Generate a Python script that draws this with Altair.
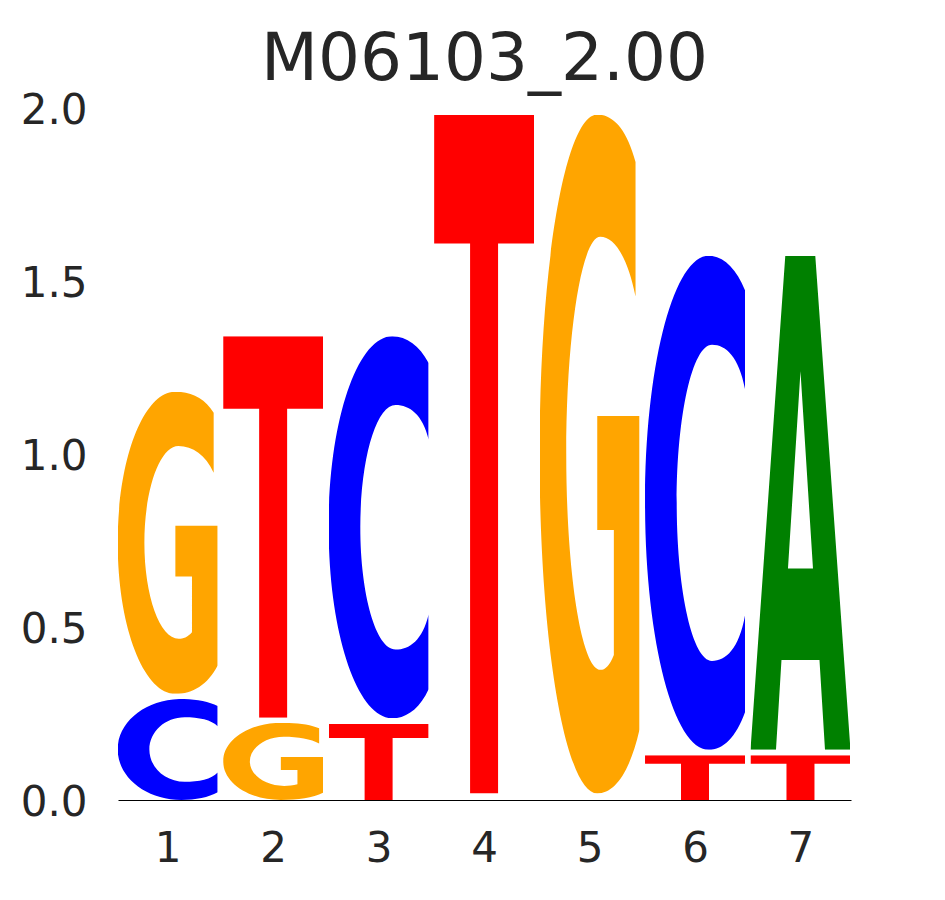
import base64
import altair as alt
import pandas as pd

positions = [1, 1, 2, 2, 3, 3, 4, 5, 6, 6, 7, 7]
letters = ["C", "G", "G", "T", "T", "C", "T", "G", "T", "C", "T", "A"]
bottoms = [0.0, 0.307, 0.0, 0.238, 0.0, 0.236, 0.019, 0.019, 0.0, 0.145, 0.0, 0.145]
tops = [0.292, 1.180, 0.223, 1.340, 0.221, 1.340, 1.981, 1.981, 0.129, 1.573, 0.129, 1.573]
x_ticks = [1, 2, 3, 4, 5, 6, 7]
y_ticks = [0.0, 0.5, 1.0, 1.5, 2.0]
title_text = "M06103_2.00"

# ---- glyph outlines (unit box 100x100, stretched to each letter's box) ----
GLYPHS = {
    "A": ("M0,100 L34.8,0 L64.8,0 L100,100 L74.5,100 L69,81.8 L31,81.8 L25.5,100 Z "
          "M50,23.4 L37.5,63.3 L62.5,63.3 Z"),
    "T": "M0,0 H100 V19 H64 V100 H36 V19 H0 Z",
    "C": ("M100,7 C91,2.5 78,0 63.7,0 C28.5,0 0,22.4 0,50 C0,77.6 28.5,100 63.7,100 "
          "C78,100 91,97.5 100,92.4 L100,72.8 C94,79.5 81,82 67,82 "
          "C47.5,82 31.7,67.7 31.7,50 C31.7,32.3 47.5,18 67,18 "
          "C81,18 94,20.5 100,27 Z"),
    "G": ("M96,7 C87,2 73,0 57.7,0 C25.8,0 0,22.4 0,50 C0,77.6 25.8,100 57.7,100 "
          "C75,100 90,97 100,90.6 L100,44.4 L57.7,44.4 L57.7,61.2 L74.3,61.2 L74.3,79.6 "
          "C70,81.2 65.5,81.8 61,81.8 C42.2,81.8 26.7,67.6 26.7,50 "
          "C26.7,32.4 42.2,18 60.7,18 C75,18 88,21 96,26.8 Z"),
}
COLORS = {"A": "#008000", "C": "#0000FF", "G": "#FFA500", "T": "#FF0000"}


def glyph_url(letter):
    svg = ('<svg xmlns="http://www.w3.org/2000/svg" width="100" height="100" '
           'viewBox="0 0 100 100" preserveAspectRatio="none">'
           f'<path d="{GLYPHS[letter]}" fill="{COLORS[letter]}" fill-rule="evenodd"/></svg>')
    return "data:image/svg+xml;base64," + base64.b64encode(svg.encode()).decode()


half = 0.474
df = pd.DataFrame({
    "pos": positions,
    "letter": letters,
    "y0": bottoms,
    "y1": tops,
})
df["x0"] = df["pos"] - half
df["x1"] = df["pos"] + half
df["url"] = df["letter"].map(glyph_url)

FONT = "DejaVu Sans"
TXT = "#262626"

chart = alt.Chart(df).mark_image(aspect=False).encode(
    x=alt.X("x0:Q",
            scale=alt.Scale(domain=[0.529, 7.479], nice=False, zero=False),
            axis=alt.Axis(values=x_ticks, format="d", title=None, ticks=False, tickSize=0,
                          grid=False, domain=True, domainColor="black", domainWidth=1,
                          labelFont=FONT, labelFontSize=42, labelColor=TXT,
                          labelPadding=28, labelFlush=False)),
    x2="x1:Q",
    y=alt.Y("y0:Q",
            scale=alt.Scale(domain=[0, 2], nice=False),
            axis=alt.Axis(values=y_ticks, format=".1f", title=None, ticks=False, tickSize=0,
                          grid=False, domain=False,
                          labelFont=FONT, labelFontSize=42, labelColor=TXT,
                          labelPadding=31, labelOffset=2, labelFlush=False)),
    y2="y1:Q",
    url="url:N",
).properties(
    width=733,
    height=692,
    title=alt.Title(title_text, font=FONT, fontSize=66, fontWeight="normal",
                    color=TXT, anchor="middle", offset=-5),
    padding={"left": 110, "top": 100, "right": 60, "bottom": 80},
    autosize="none",
    background="white",
).configure_view(strokeWidth=0, stroke="transparent")

chart.save("out.html", embed_options={"renderer": "svg", "actions": False})
